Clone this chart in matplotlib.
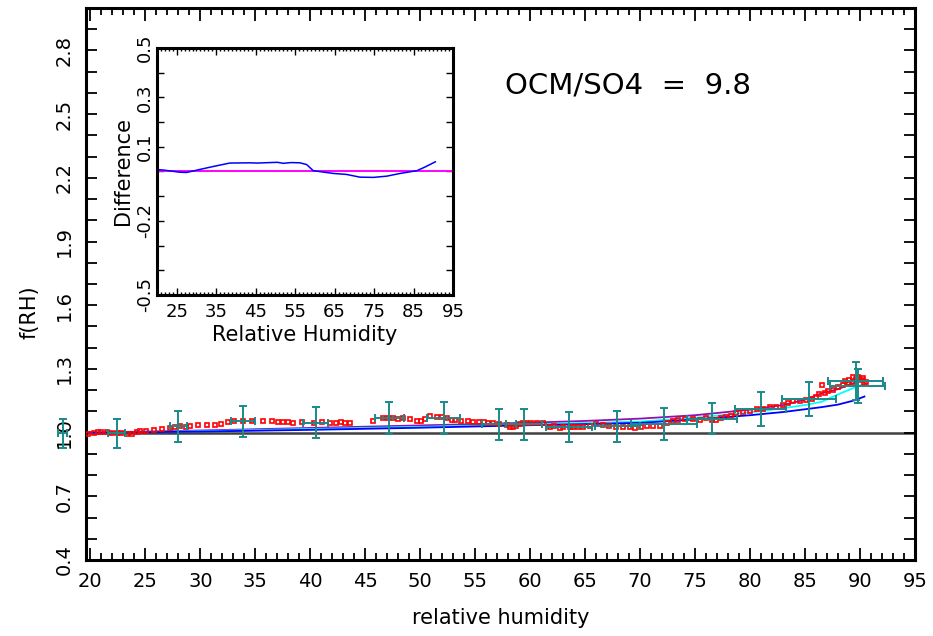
import numpy as np
import matplotlib
matplotlib.use("Agg")
import matplotlib.pyplot as plt
from matplotlib.ticker import MultipleLocator, FixedLocator, FixedFormatter

# measured f(RH) (red squares)
rh_obs = [19.8, 20.3, 20.7, 21.0, 21.5, 21.9, 22.4, 22.8, 23.3, 23.75, 24.2, 24.5,
          25.1, 25.8, 26.5, 27.2, 27.7, 28.15, 28.7, 29.05, 29.8, 30.6, 31.3, 31.9,
          32.5, 33.1, 33.9, 34.7, 35.7, 36.5, 37.1, 37.5, 38.0, 38.45, 39.2, 40.3,
          41.1, 41.8, 42.3, 42.8, 43.2, 43.65, 45.7, 46.6, 47.1, 47.5, 48.0, 48.45,
          49.1, 49.7, 50.1, 50.4, 50.9, 51.5, 52.0, 52.45, 52.85, 53.2, 53.75, 54.35,
          54.8, 55.3, 55.8, 56.2, 56.6, 57.2, 57.85, 58.15, 58.45, 58.75, 59.05, 59.35,
          59.65, 60.1, 60.6, 61.2, 61.8, 62.2, 62.7, 63.0, 63.6, 63.9, 64.35, 64.8,
          65.4, 66.0, 66.6, 67.2, 67.85, 68.45, 69.05, 69.5, 70.1, 70.6, 71.2, 71.8,
          72.4, 73.0, 73.45, 74.05, 74.8, 75.4, 76.0, 76.5, 76.9, 77.4, 77.85, 78.3,
          78.75, 79.35, 79.95, 80.6, 81.15, 81.8, 82.4, 83.0, 83.45, 83.9, 84.5, 85.1,
          85.6, 86.0, 86.3, 86.5, 86.8, 87.1, 87.55, 88.0, 88.45, 88.6, 88.9, 89.0,
          89.35, 89.4, 89.65, 89.8, 89.95, 90.2, 90.25, 90.4, 90.5]
f_obs = [0.994, 0.999, 1.001, 1.001, 1.001, 0.999, 0.998, 0.998, 0.994, 0.994, 1.001, 1.006,
         1.009, 1.014, 1.016, 1.020, 1.028, 1.030, 1.028, 1.032, 1.035, 1.036, 1.036, 1.039,
         1.049, 1.053, 1.053, 1.053, 1.055, 1.053, 1.052, 1.052, 1.049, 1.046, 1.049, 1.047,
         1.050, 1.047, 1.044, 1.050, 1.046, 1.047, 1.053, 1.069, 1.069, 1.069, 1.066, 1.069,
         1.065, 1.057, 1.057, 1.063, 1.076, 1.072, 1.072, 1.069, 1.061, 1.061, 1.053, 1.053,
         1.050, 1.049, 1.049, 1.046, 1.046, 1.041, 1.038, 1.028, 1.025, 1.033, 1.041, 1.046,
         1.044, 1.046, 1.044, 1.044, 1.025, 1.033, 1.020, 1.025, 1.025, 1.028, 1.025, 1.025,
         1.033, 1.041, 1.038, 1.032, 1.028, 1.025, 1.025, 1.022, 1.028, 1.032, 1.030, 1.030,
         1.044, 1.057, 1.061, 1.065, 1.065, 1.061, 1.068, 1.061, 1.061, 1.069, 1.072, 1.080,
         1.091, 1.096, 1.104, 1.109, 1.112, 1.120, 1.123, 1.131, 1.139, 1.147, 1.147, 1.155,
         1.159, 1.170, 1.183, 1.222, 1.188, 1.198, 1.203, 1.214, 1.222, 1.245, 1.233, 1.250,
         1.238, 1.260, 1.254, 1.262, 1.258, 1.250, 1.258, 1.233, 1.240]

# binned error bars (teal)
eb_x = [17.5, 22.4, 28.0, 33.85, 40.5, 47.2, 52.15, 57.2, 59.45, 63.5, 67.9,
        72.2, 76.55, 80.95, 85.35, 89.6, 89.8]
eb_y = [0.996, 0.996, 1.029, 1.054, 1.046, 1.069, 1.069, 1.039, 1.039, 1.025, 1.031,
        1.040, 1.066, 1.112, 1.157, 1.242, 1.220]
eb_xerr = [0.41, 0.76, 0.76, 1.09, 1.14, 1.29, 1.5, 1.55, 1.65, 2.1, 2.05,
           3.0, 2.3, 2.35, 2.45, 2.5, 2.5]
eb_yerr = [0.069, 0.069, 0.072, 0.073, 0.073, 0.075, 0.075, 0.072, 0.072, 0.071, 0.073,
           0.075, 0.072, 0.079, 0.081, 0.090, 0.080]

# model curves
rh_mod = [19.6, 25, 30, 35, 40, 45, 50, 55, 60, 65, 70, 75, 80, 83, 85, 86.5, 88, 89.5, 90.4]
f_purple = [1.0, 1.005, 1.010, 1.016, 1.022, 1.028, 1.034, 1.040, 1.047, 1.055, 1.066,
            1.082, 1.108, 1.130, 1.155, 1.185, 1.205, 1.235, 1.254]
f_cyan = [1.0, 1.003, 1.007, 1.012, 1.017, 1.022, 1.027, 1.033, 1.039, 1.045, 1.052,
          1.070, 1.095, 1.115, 1.130, 1.145, 1.180, 1.212, 1.230]
f_blue = [1.0, 1.002, 1.005, 1.009, 1.013, 1.018, 1.023, 1.029, 1.035, 1.040, 1.046,
          1.062, 1.082, 1.097, 1.110, 1.120, 1.132, 1.152, 1.170]

# inset: difference
diff_x = [20.0, 22.0, 25.75, 27.5, 30.8, 34.2, 38.4, 43.5, 45.5, 48.6, 50.5, 52.0, 54.0,
          56.2, 57.9, 59.6, 64.7, 68.0, 71.4, 74.8, 78.2, 81.6, 85.8, 87.9, 90.0, 90.5]
diff_y = [0.008, 0.005, -0.003, -0.004, 0.008, 0.020, 0.034, 0.035, 0.034, 0.036, 0.037,
          0.033, 0.036, 0.035, 0.028, 0.003, -0.008, -0.012, -0.023, -0.024, -0.019,
          -0.008, 0.003, 0.018, 0.035, 0.039]

main_yticks = [0.4, 0.7, 1.0, 1.3, 1.6, 1.9, 2.2, 2.5, 2.8]
inset_yticks = [0.5, 0.3, 0.1, -0.2, -0.5]


def main():
    plt.rcParams['font.family'] = 'DejaVu Sans'
    fig = plt.figure(figsize=(9.33, 6.36), dpi=100)
    ax = fig.add_axes([0.0922, 0.1195, 0.8885, 0.8679])

    ax.axhline(1.0, color="#404040", lw=1.8, zorder=1)
    ax.plot(rh_mod, f_purple, color="#9010b0", lw=1.3, zorder=2)
    ax.plot(rh_mod, f_cyan, color="cyan", lw=1.3, zorder=2)
    ax.plot(rh_mod, f_blue, color="blue", lw=1.3, zorder=2)
    ax.plot(rh_obs, f_obs, "s", mfc="none", mec="red", ms=3.4, mew=1.2, zorder=3)
    cont = ax.errorbar(eb_x, eb_y, xerr=eb_xerr, yerr=eb_yerr, fmt="none",
                       ecolor="#1a8a8a", elinewidth=1.4, capsize=3, capthick=1.4, zorder=4)
    for a in cont.get_children():
        a.set_clip_on(False)

    ax.set_xlim(19.6, 95)
    ax.set_ylim(0.4, 3.0)
    ax.xaxis.set_major_locator(FixedLocator(list(range(20, 96, 5))))
    ax.xaxis.set_minor_locator(MultipleLocator(1))
    ax.yaxis.set_major_locator(FixedLocator(main_yticks))
    ax.yaxis.set_major_formatter(FixedFormatter(["%.1f" % v for v in main_yticks]))
    ax.yaxis.set_minor_locator(MultipleLocator(0.1))
    ax.tick_params(which="both", direction="in", top=True, right=True, width=1.3)
    ax.tick_params(axis="x", which="major", length=9, labelsize=14, pad=9)
    ax.tick_params(axis="x", which="minor", length=5)
    ax.tick_params(axis="y", which="both", length=8)
    ax.tick_params(axis="y", which="major", labelsize=14, pad=9)
    for lab in ax.get_yticklabels():
        lab.set_rotation(90)
        lab.set_va("center")
    for s in ax.spines.values():
        s.set_linewidth(2.2)
    ax.set_xlabel("relative humidity", fontsize=15, labelpad=12)
    fig.text(30 / 933, 1 - 312 / 636, "f(RH)", rotation=90, fontsize=15,
             ha="center", va="center")
    ax.text(0.505, 0.845, "OCM/SO4  =  9.8", transform=ax.transAxes, fontsize=21)

    ins = fig.add_axes([0.1683, 0.5362, 0.3173, 0.3884])
    ins.axhline(0.0, color="magenta", lw=1.4)
    ins.plot(diff_x, diff_y, color="blue", lw=1.1)
    ins.set_xlim(20, 95)
    ins.set_ylim(-0.5, 0.5)
    ins.xaxis.set_major_locator(FixedLocator(list(range(25, 96, 10))))
    ins.xaxis.set_minor_locator(MultipleLocator(1))
    ins.yaxis.set_major_locator(FixedLocator(inset_yticks))
    ins.yaxis.set_major_formatter(FixedFormatter(["%.1f" % v for v in inset_yticks]))
    ins.yaxis.set_minor_locator(MultipleLocator(0.1))
    ins.tick_params(which="both", direction="in", top=True, right=True, width=1.0)
    ins.tick_params(axis="x", which="major", length=5, labelsize=13, pad=6)
    ins.tick_params(axis="x", which="minor", length=2)
    ins.tick_params(axis="y", which="both", length=5)
    ins.tick_params(axis="y", which="major", labelsize=13, pad=2)
    for lab in ins.get_yticklabels():
        lab.set_rotation(90)
        lab.set_va("center")
    for s in ins.spines.values():
        s.set_linewidth(2.2)
    ins.set_xlabel("Relative Humidity", fontsize=15, labelpad=3)
    ins.set_ylabel("Difference", fontsize=15, labelpad=2)

    fig.savefig("out.png", dpi=100)


if __name__ == "__main__":
    main()
